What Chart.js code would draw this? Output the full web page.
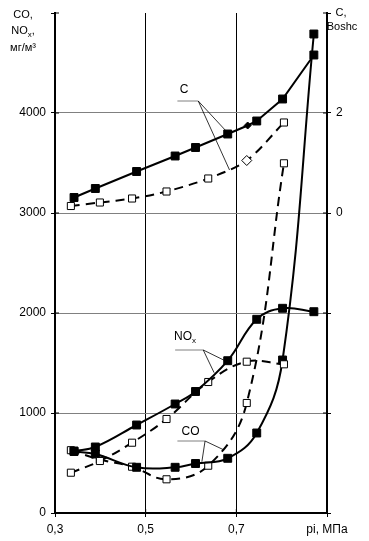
<!DOCTYPE html>
<html>
<head>
<meta charset="utf-8">
<script src="https://cdn.jsdelivr.net/npm/chart.js@4.4.1/dist/chart.umd.min.js"></script>
<style>
  html, body { margin: 0; padding: 0; background: #fff; }
</style>
</head>
<body>
<canvas id="chart" width="369" height="541"></canvas>
<script>
// pressure pi, MPa
const piSolid = [0.342, 0.389, 0.48, 0.565, 0.61, 0.681, 0.745, 0.802, 0.871];
const piSmoke = [0.342, 0.389, 0.48, 0.565, 0.61, 0.681, 0.725, 0.745, 0.802, 0.871];
const piDashed = [0.335, 0.399, 0.47, 0.546, 0.638, 0.723, 0.805];

// C, Bosch units (right axis)
const smokeSolid = [0.31, 0.49, 0.83, 1.14, 1.31, 1.58, 1.75, 1.84, 2.28, 3.16];
const smokeDashed = [0.14, 0.21, 0.29, 0.43, 0.69, 1.05, 1.81];

// CO and NOx, mg/m3 (left axis)
const noxSolid = [620, 660, 880, 1090, 1215, 1523, 1937, 2047, 2013];
const coSolid = [615, 590, 457, 457, 495, 547, 800, 1530, 4790];
const noxDashed = [403, 520, 703, 940, 1310, 1513, 1487];
const coDashed = [628, 535, 463, 337, 473, 1100, 3497];

const leftTicks = [0, 1000, 2000, 3000, 4000];
const rightTicks = [0, 2];
const xTicks = ['0,3', '0,5', '0,7'];

// callouts, in data units of the left axis
const callouts = [
  { text: 'C', at: [0.585, 4230], bar: [0.570, 0.616, 4120], to: [[0.682, 3797], [0.685, 3430]] },
  { text: 'NOx', at: [0.587, 1763], bar: [0.565, 0.627, 1630], to: [[0.675, 1523], [0.651, 1403]] },
  { text: 'CO', at: [0.599, 813], bar: [0.570, 0.631, 720], to: [[0.624, 513], [0.673, 630]] }
];

const FONT = '"Liberation Sans", Arial, sans-serif';

const pts = (xs, ys) => xs.map((x, i) => ({ x: x, y: ys[i] }));

function solid(data, axis, tension) {
  return {
    data: data, yAxisID: axis,
    borderColor: '#000', borderWidth: 2, tension: tension,
    pointStyle: 'rect', pointRadius: 5.6, pointBackgroundColor: '#000',
    pointBorderColor: '#000', pointBorderWidth: 1
  };
}
function dashed(data, axis, tension) {
  return {
    data: data, yAxisID: axis,
    borderColor: '#000', borderWidth: 2, borderDash: [9, 6], tension: tension,
    pointStyle: 'rect', pointRadius: 5, pointBackgroundColor: '#fff',
    pointBorderColor: '#000', pointBorderWidth: 1
  };
}

function drawNOx(ctx, x, y, size, suffix, align) {
  ctx.font = size + 'px ' + FONT;
  const wNO = ctx.measureText('NO').width;
  const wS = ctx.measureText(suffix).width;
  ctx.font = Math.round(size * 0.7) + 'px ' + FONT;
  const wx = ctx.measureText('x').width;
  const total = wNO + wx + wS;
  let sx = align === 'center' ? x - total / 2 : x;
  ctx.textAlign = 'left';
  ctx.textBaseline = 'middle';
  ctx.font = size + 'px ' + FONT;
  ctx.fillText('NO', sx, y);
  ctx.font = Math.round(size * 0.7) + 'px ' + FONT;
  ctx.fillText('x', sx + wNO, y + size * 0.3);
  ctx.font = size + 'px ' + FONT;
  ctx.fillText(suffix, sx + wNO + wx, y);
}

const extras = {
  id: 'extras',
  afterDraw(chart) {
    const ctx = chart.ctx;
    const xs = chart.scales.x, ys = chart.scales.y;
    const area = chart.chartArea;
    ctx.save();

    // inner halves of the tick marks
    ctx.strokeStyle = '#000';
    ctx.lineWidth = 1;
    ctx.beginPath();
    ys.ticks.forEach(t => {
      const py = ys.getPixelForValue(t.value);
      ctx.moveTo(area.left, py); ctx.lineTo(area.left + 4, py);
      ctx.moveTo(area.right - 4, py); ctx.lineTo(area.right, py);
    });
    xs.ticks.forEach(t => {
      const px = xs.getPixelForValue(t.value);
      ctx.moveTo(px, area.bottom); ctx.lineTo(px, area.bottom - 4);
    });
    ctx.stroke();

    // callouts
    ctx.fillStyle = '#000';
    callouts.forEach(c => {
      const bx0 = xs.getPixelForValue(c.bar[0]);
      const bx1 = xs.getPixelForValue(c.bar[1]);
      const by = ys.getPixelForValue(c.bar[2]);
      ctx.strokeStyle = '#808080';
      ctx.lineWidth = 1;
      ctx.beginPath();
      ctx.moveTo(bx0, by); ctx.lineTo(bx1, by);
      ctx.stroke();
      ctx.strokeStyle = '#000';
      ctx.lineWidth = 0.8;
      ctx.beginPath();
      c.to.forEach(p => {
        ctx.moveTo(bx1, by);
        ctx.lineTo(xs.getPixelForValue(p[0]), ys.getPixelForValue(p[1]));
      });
      ctx.stroke();
      const tx = xs.getPixelForValue(c.at[0]);
      const ty = ys.getPixelForValue(c.at[1]);
      if (c.text === 'NOx') {
        drawNOx(ctx, tx, ty, 12, '', 'center');
      } else {
        ctx.font = '12px ' + FONT;
        ctx.textAlign = 'center';
        ctx.textBaseline = 'middle';
        ctx.fillText(c.text, tx, ty);
      }
    });

    // axis titles
    ctx.font = '11px ' + FONT;
    ctx.textAlign = 'center';
    ctx.textBaseline = 'middle';
    ctx.fillText('CO,', 23, 15);
    drawNOx(ctx, 23, 31, 11, ',', 'center');
    ctx.font = '11px ' + FONT;
    ctx.textAlign = 'center';
    ctx.fillText('мг/м³', 23, 48);
    ctx.fillText('C,', 341, 13);
    ctx.fillText('Boshc', 342, 27);
    ctx.restore();
  }
};

// the C solid curve has one small diamond marker, the dashed one a rotated marker
const smokeSolidSet = solid(pts(piSmoke, smokeSolid), 'y2', 0);
smokeSolidSet.pointStyle = piSmoke.map((_, i) => i === 6 ? 'rectRot' : 'rect');
smokeSolidSet.pointRadius = piSmoke.map((_, i) => i === 6 ? 3.5 : 5.6);
const smokeDashedSet = dashed(pts(piDashed, smokeDashed), 'y2', 0.3);
smokeDashedSet.pointStyle = piDashed.map((_, i) => i === 5 ? 'rectRot' : 'rect');

new Chart(document.getElementById('chart'), {
  type: 'line',
  data: {
    datasets: [
      smokeSolidSet,
      smokeDashedSet,
      solid(pts(piSolid, noxSolid), 'y', 0.4),
      dashed(pts(piDashed, noxDashed), 'y', 0.4),
      solid(pts(piSolid, coSolid), 'y', 0.4),
      dashed(pts(piDashed, coDashed), 'y', 0.4)
    ]
  },
  options: {
    responsive: false,
    animation: false,
    devicePixelRatio: 1,
    layout: { padding: { top: 13, left: 0, right: 0, bottom: 0 } },
    plugins: { legend: { display: false }, tooltip: { enabled: false } },
    scales: {
      x: {
        type: 'linear', min: 0.3, max: 0.9,
        afterFit: (s) => { s.height = 28; },
        ticks: {
          stepSize: 0.2, color: '#000', padding: 5, maxRotation: 0,
          font: { family: FONT, size: 12 },
          callback: (v) => {
            const i = Math.round((v - 0.3) / 0.2);
            return i < xTicks.length ? xTicks[i] : 'pi, МПа';
          }
        },
        grid: {
          color: (c) => (c.tick && (Math.abs(c.tick.value - 0.5) < 0.01 || Math.abs(c.tick.value - 0.7) < 0.01)) ? '#000' : 'rgba(0,0,0,0)',
          lineWidth: 1, tickColor: '#000', tickLength: 4
        },
        border: { display: true, color: '#000', width: 2 }
      },
      y: {
        position: 'left', min: 0, max: 5000,
        afterFit: (s) => { s.width = 55; },
        ticks: {
          stepSize: 1000, color: '#000', padding: 5,
          font: { family: FONT, size: 12 },
          callback: (v) => leftTicks.includes(v) ? String(v) : ''
        },
        grid: {
          color: (c) => (c.tick && c.tick.value > 0 && c.tick.value < 5000) ? '#808080' : 'rgba(0,0,0,0)',
          lineWidth: 1, tickColor: '#000', tickLength: 4
        },
        border: { display: true, color: '#000', width: 2 }
      },
      y2: {
        position: 'right', min: -6, max: 4,
        afterFit: (s) => { s.width = 42; },
        ticks: {
          stepSize: 2, color: '#000', padding: 5,
          font: { family: FONT, size: 12 },
          callback: (v) => rightTicks.includes(v) ? String(v) : ''
        },
        grid: { drawOnChartArea: false, tickColor: '#000', tickLength: 4 },
        border: { display: true, color: '#000', width: 2 }
      }
    }
  },
  plugins: [extras]
});
</script>
</body>
</html>
